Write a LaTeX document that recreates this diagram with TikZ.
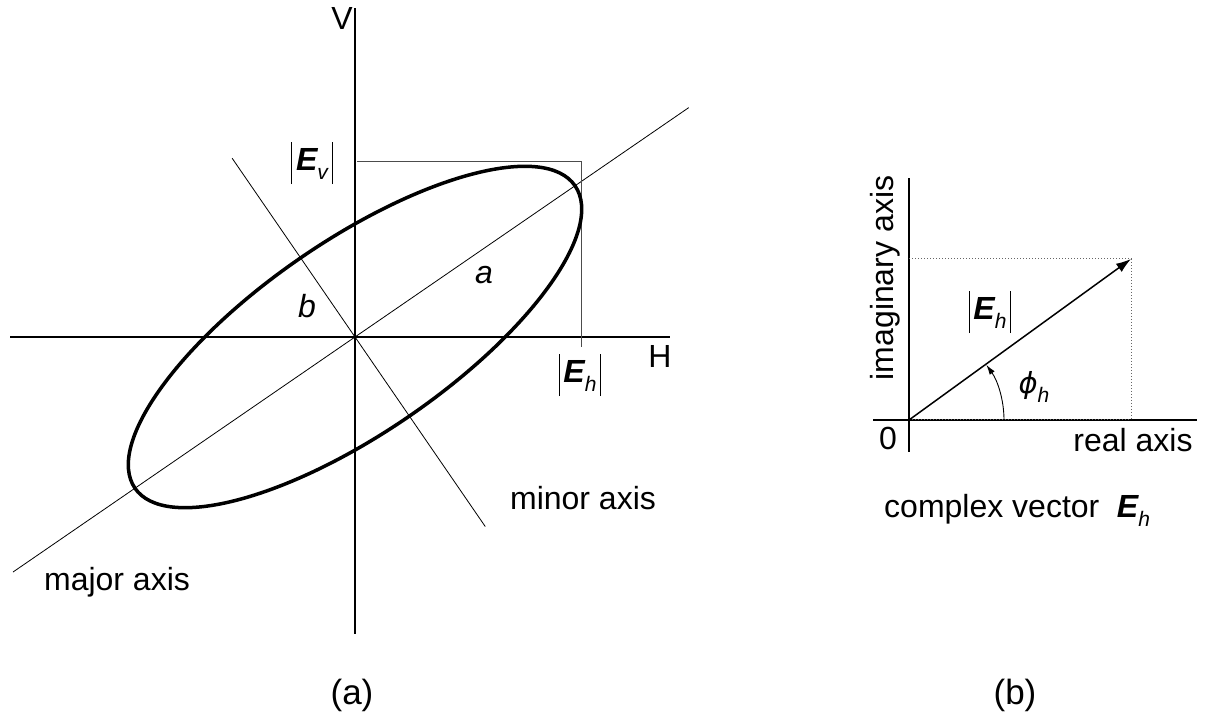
\documentclass[tikz,border=0pt]{standalone}
\usepackage{fontspec}
\setmainfont{Liberation Sans}
\newfontfamily\djv{DejaVu Sans}
\usetikzlibrary{arrows.meta}
\newcommand{\absbar}{\rule[-0.42em]{0.9pt}{1.32em}}
\newcommand{\vecE}[1]{{\bfseries\itshape E}\raisebox{-0.28em}{\fontsize{21}{21}\selectfont\itshape #1}}
\newcommand{\absE}[1]{\absbar\kern0.12em\vecE{#1}\kern0.12em\absbar}
\begin{document}
\begin{tikzpicture}[x=1pt,y=1pt,
  lbl/.style={font=\fontsize{32}{37}\selectfont, inner sep=0pt},
  captxt/.style={font=\fontsize{35}{40}\selectfont, inner sep=0pt},
  axis/.style={line width=2pt},
  thin/.style={line width=0.8pt},
  boxline/.style={line width=1pt, black!70},
  ell/.style={line width=3.5pt},
  dotline/.style={line width=1pt, black!60, dotted},
  vec/.style={line width=1.5pt, -{Latex[length=15pt,width=10pt]}},
  angarr/.style={line width=0.9pt, -{Latex[length=10pt,width=6pt]}}]
\useasboundingbox (0,0) rectangle (1208,715);
% ---------- (a) ----------
\coordinate (O) at (355,378);
\coordinate (Vtop) at (355,707);
\coordinate (Vbot) at (355,81);
\coordinate (Hl) at (10,378);
\coordinate (Hr) at (670,378);
\coordinate (Mj1) at ([shift={(34.5:405)}]O);
\coordinate (Mj2) at ([shift={(214.5:415)}]O);
\coordinate (Mn1) at ([shift={(124.5:217)}]O);
\coordinate (Mn2) at ([shift={(-55.5:230)}]O);
\draw[thin] (Mj2) -- (Mj1);
\draw[thin] (Mn1) -- (Mn2);
\draw[axis] (Vbot) -- (Vtop);
\draw[axis] (Hl) -- (Hr);
\coordinate (EvS) at (357,553);
\coordinate (Cn) at (581,553);
\coordinate (EhE) at (581,368);
\draw[boxline] (EvS) -- (Cn) -- (EhE);
\draw[ell] (O) circle [x radius=267, y radius=96, rotate=34.5];
\node[lbl] (Vl) at (342,697) {V};
\node[lbl] (Hlab) at (660,359) {H};
\node[lbl] (Evl) at (312,552) {\absE{v}};
\node[lbl] (Ehl) at (580,340) {\absE{h}};
\node[lbl] (al) at (484,440) {\itshape a};
\node[lbl] (bl) at (307,409) {\itshape b};
\node[lbl] (minl) at (583,217) {minor axis};
\node[lbl] (majl) at (117,133) {major axis};
\node[captxt] (capa) at (352,20) {(a)};
% ---------- (b) ----------
\coordinate (O2) at (909,295);
\coordinate (IVt) at (909,537);
\coordinate (IVb) at (909,263);
\coordinate (RHl) at (873,295);
\coordinate (RHr) at (1197,295);
\coordinate (P) at (1131,456);
\coordinate (Pl) at (909,456);
\coordinate (Pb) at (1131,295);
\draw[line width=1.2pt] (IVb) -- (IVt);
\draw[line width=1.2pt] (RHl) -- (RHr);
\draw[dotline] (Pl) -- (P) -- (Pb);
\draw[dotline] (O2) -- (Pb);
\draw[vec] (O2) -- (P);
\draw[angarr] ([shift={(0:95)}]O2) arc[start angle=0, end angle=35.5, radius=95];
\node[lbl, rotate=90] (iml) at (885,437) {imaginary axis};
\node[lbl] (Ehv) at (990,403) {\absE{h}};
\node[lbl] (phl) at (1034,328) {{\djv\itshape\fontsize{29}{34}\selectfont ϕ}\raisebox{-0.28em}{\fontsize{21}{21}\selectfont\itshape h}};
\node[lbl] (zl) at (888,277) {0};
\node[lbl] (rel) at (1133,275) {real axis};
\node[lbl, anchor=west] (cvl) at (884,205) {complex vector\kern0.55em\vecE{h}};
\node[captxt] (capb) at (1015,20) {(b)};
\end{tikzpicture}
\end{document}
